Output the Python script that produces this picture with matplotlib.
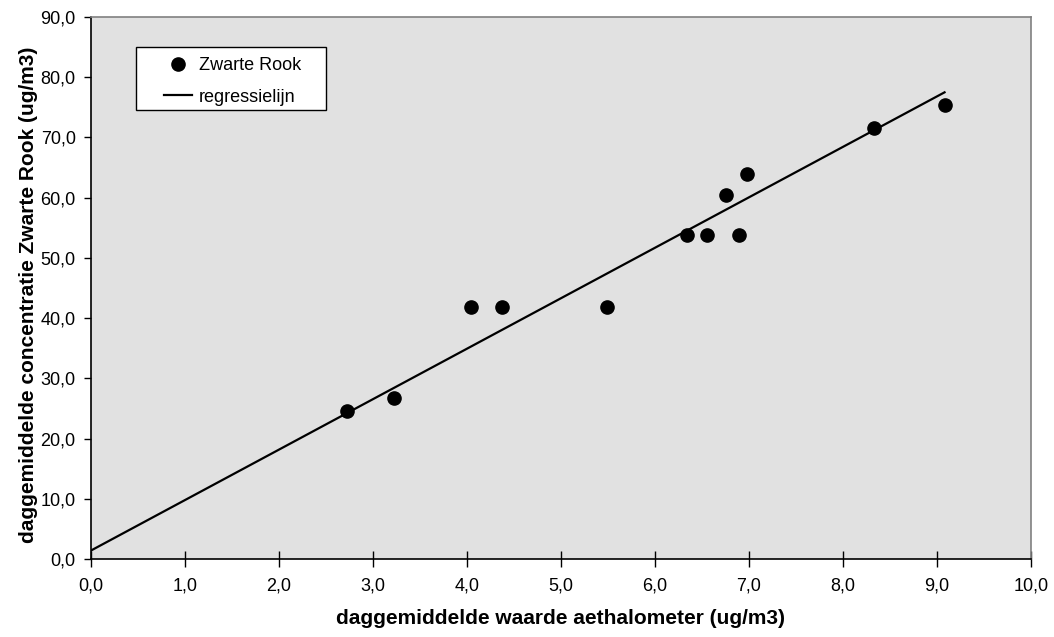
import matplotlib
matplotlib.use('Agg')
import matplotlib.pyplot as plt
from matplotlib.patches import Rectangle
import numpy as np

# daggemiddelde waarden
aeth = [2.72, 3.22, 4.04, 4.37, 5.49, 6.34, 6.55, 6.89, 6.76, 6.98, 8.33, 9.08]
zwarte_rook = [24.5, 26.7, 41.8, 41.8, 41.8, 53.8, 53.8, 53.8, 60.5, 64.0, 71.5, 75.4]

# regressielijn
reg_slope = 8.38
reg_intercept = 1.4
reg_x = [0.0, 9.08]

xticks = np.arange(0, 10.01, 1.0)
yticks = np.arange(0, 90.01, 10.0)

plt.rcParams['font.family'] = ['Liberation Sans', 'DejaVu Sans']

fig = plt.figure(figsize=(10.54, 6.37), dpi=100)
ax = fig.add_axes([0.0863, 0.1225, 0.8919, 0.8508])
ax.set_facecolor('#e1e1e1')

reg_y = [reg_intercept + reg_slope * x for x in reg_x]
ax.plot(aeth, zwarte_rook, 'o', color='black', markersize=9.5, label='Zwarte Rook', zorder=3)
ax.plot(reg_x, reg_y, '-', color='black', linewidth=1.6, label='regressielijn', zorder=2)

ax.set_xlim(0, 10)
ax.set_ylim(0, 90)
ax.set_xticks(xticks)
ax.set_yticks(yticks)
ax.set_xticklabels([f'{v:.1f}'.replace('.', ',') for v in xticks], fontsize=13)
ax.set_yticklabels([f'{v:.1f}'.replace('.', ',') for v in yticks], fontsize=13)
ax.tick_params(axis='x', direction='inout', length=11, width=1, pad=8)
ax.tick_params(axis='y', direction='out', length=5, width=1, pad=6)

for side in ['left', 'bottom']:
    ax.spines[side].set_color('black')
    ax.spines[side].set_linewidth(1.2)
for side in ['top', 'right']:
    ax.spines[side].set_color('#808080')
    ax.spines[side].set_linewidth(1.2)

ax.set_xlabel('daggemiddelde waarde aethalometer (ug/m3)', fontsize=15, fontweight='bold', labelpad=10)
ax.set_ylabel('daggemiddelde concentratie Zwarte Rook (ug/m3)', fontsize=15, fontweight='bold')
ax.yaxis.set_label_coords(-0.056, 0.487)

# legenda met eigen kader (breder dan de standaard)
ax.add_patch(Rectangle((0.0479, 0.828), 0.2021, 0.1166, transform=ax.transAxes,
                       facecolor='white', edgecolor='black', linewidth=1.0, zorder=4))
leg = ax.legend(loc='upper left', bbox_to_anchor=(0.0777, 0.926), fontsize=13, frameon=False,
                borderpad=0, borderaxespad=0, handlelength=1.55, handletextpad=0.4,
                labelspacing=0.8)
leg.set_zorder(5)

plt.savefig('out.png', dpi=100)
